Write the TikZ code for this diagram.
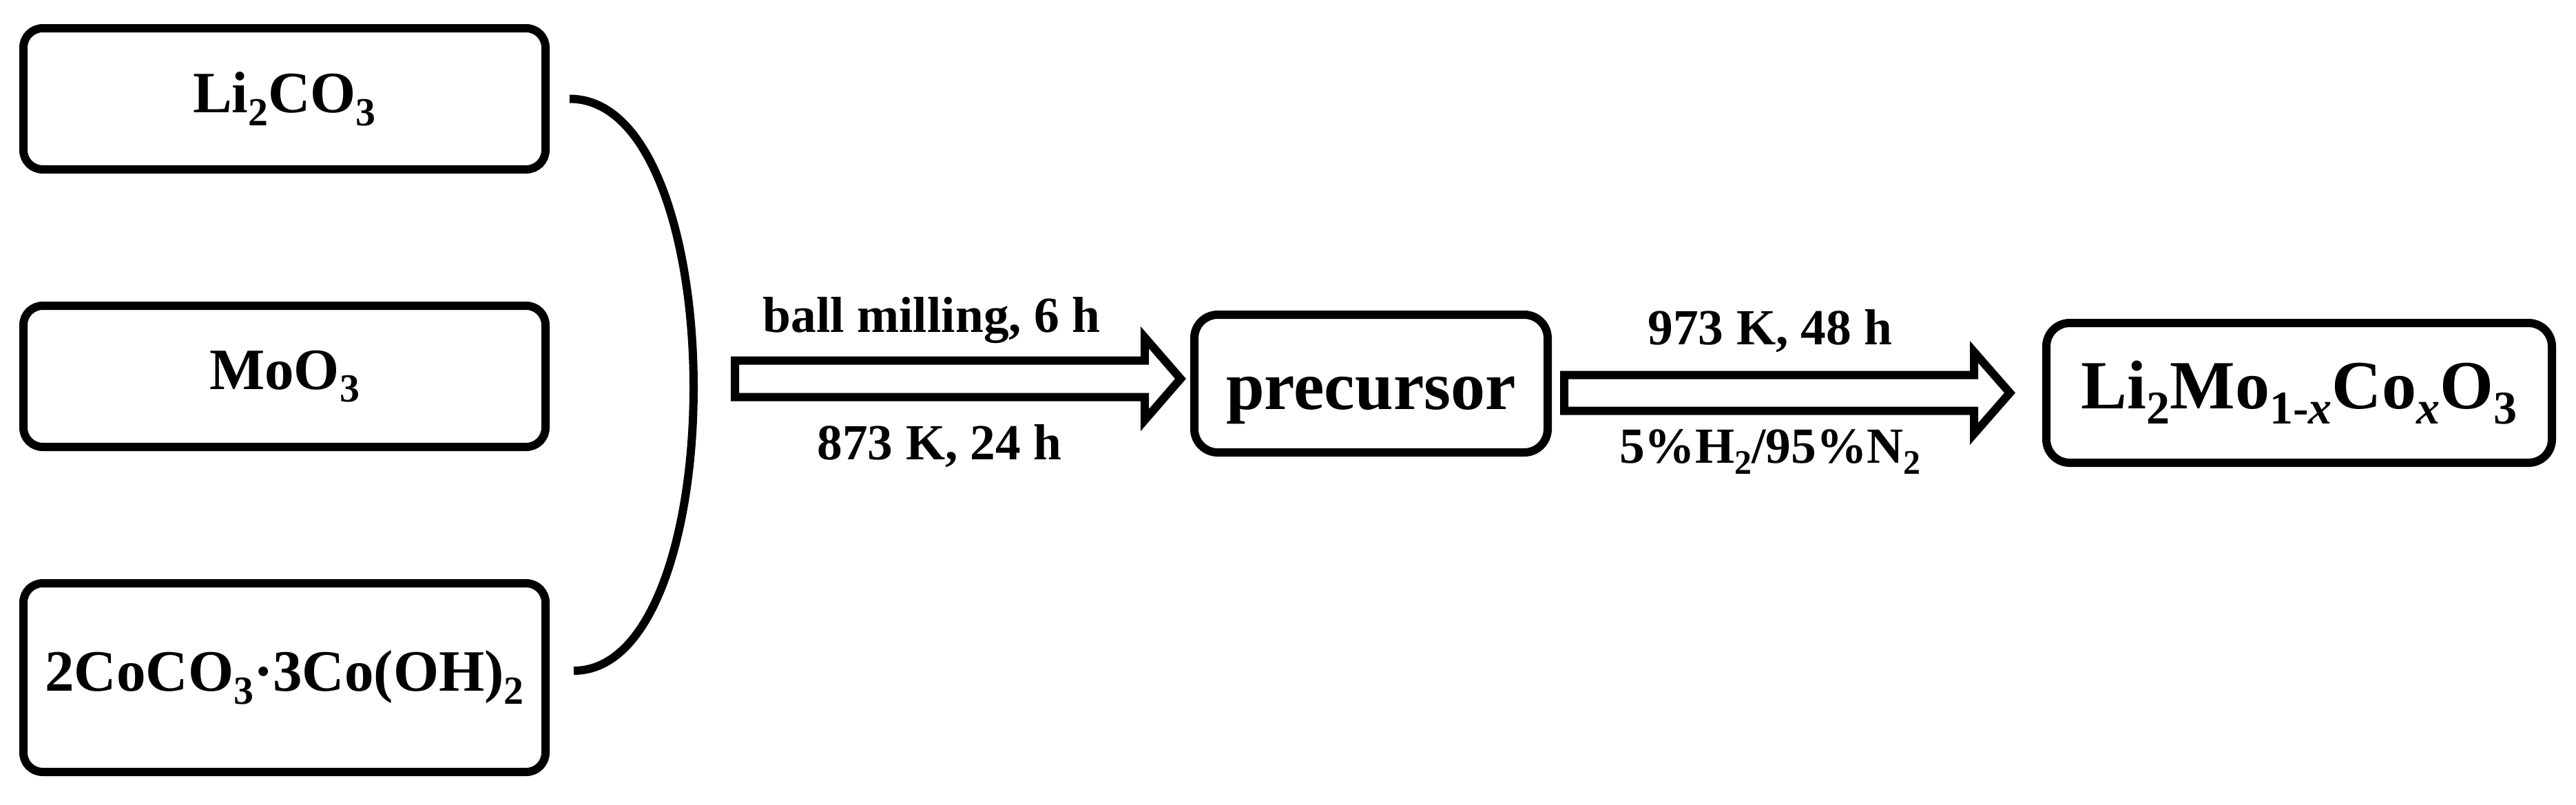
\documentclass[tikz,border=0pt]{standalone}
\usepackage{fontspec}
\setmainfont{Liberation Serif}
\usepackage{tikz}
\usetikzlibrary{positioning}

\newcommand{\lowidx}[1]{\raisebox{-0.22em}{\scalebox{0.68}{#1}}}

\begin{document}
\begin{tikzpicture}
[
box-a/.style={rectangle, rounded corners=2.8mm, draw, line width=1.2mm, minimum width=75.80mm, minimum height=20.50mm, inner sep=0pt, outer sep=0pt, font=\fontsize{24.2}{29}\selectfont\bfseries},
box-b/.style={rectangle, rounded corners=3.4mm, draw, line width=1.2mm, minimum width=51.30mm, minimum height=20.00mm, inner sep=0pt, outer sep=0pt, font=\fontsize{28.5}{34}\selectfont\bfseries},
text-a/.style={black, inner sep=0pt, anchor=base, font=\fontsize{20.9}{25}\selectfont\bfseries},
line-a/.style={line width=1.2mm},
arrow-a/.style={line width=1.2mm, line join=miter}
]

\useasboundingbox (0,0) rectangle (37.40,-11.68);

\node (src-1)     [box-a] at (4.13,-1.435)                      {Li\lowidx{2}CO\lowidx{3}};
\node (src-2)     [box-a, below = 19.80mm of src-1]             {MoO\lowidx{3}};
\node (src-3)     [box-a, minimum height=27.40mm, below = 19.80mm of src-2] {2CoCO\lowidx{3}·3Co(OH)\lowidx{2}};

\coordinate (brace-top) at ([xshift=3.50mm]src-1.east);
\coordinate (brace-bot) at ([xshift=4.10mm, yshift=1.00mm]src-3.east);
\draw [line-a] (brace-top) .. controls +(right:23.90mm) and +(right:23.30mm) .. (brace-bot);

\coordinate (tail-1) at ([xshift=27.50mm, yshift=-0.35mm]src-2.east);
\coordinate (tip-1)  at ([xshift=64.70mm]tail-1);
\draw [arrow-a] (tail-1) ++(0,2.65mm) -- ++(59.50mm,0) -- ++(0,3.35mm) -- (tip-1)
                -- ++(-5.20mm,-6.00mm) -- ++(0,3.35mm) -- ++(-59.50mm,0) -- cycle;
\node (mill)      [text-a] at ([xshift=28.55mm, yshift=6.80mm]tail-1)   {ball milling, 6 h};
\node (calcine)   [text-a] at ([xshift=29.70mm, yshift=-11.70mm]tail-1) {873 K, 24 h};

\node (precursor) [box-b, text height=7.50mm, text depth=0pt, right = 2.00mm of tip-1, yshift=-0.70mm] {precursor};

\coordinate (tail-2) at ([xshift=2.40mm, yshift=-1.35mm]precursor.east);
\coordinate (tip-2)  at ([xshift=64.70mm]tail-2);
\draw [arrow-a] (tail-2) ++(0,2.60mm) -- ++(59.50mm,0) -- ++(0,3.35mm) -- (tip-2)
                -- ++(-5.20mm,-5.95mm) -- ++(0,3.35mm) -- ++(-59.50mm,0) -- cycle;
\node (anneal)    [text-a] at ([xshift=29.90mm, yshift=7.05mm]tail-2)   {973 K, 48 h};
\node (gas)       [text-a] at ([xshift=29.90mm, yshift=-10.15mm]tail-2) {5\%H\lowidx{2}/95\%N\lowidx{2}};

\node (product)   [box-b, minimum width=73.40mm, minimum height=20.30mm, right = 5.30mm of tip-2] {Li\lowidx{2}Mo\lowidx{1-\textit{x}}Co\lowidx{\textit{x}}O\lowidx{3}};

\end{tikzpicture}
\end{document}
